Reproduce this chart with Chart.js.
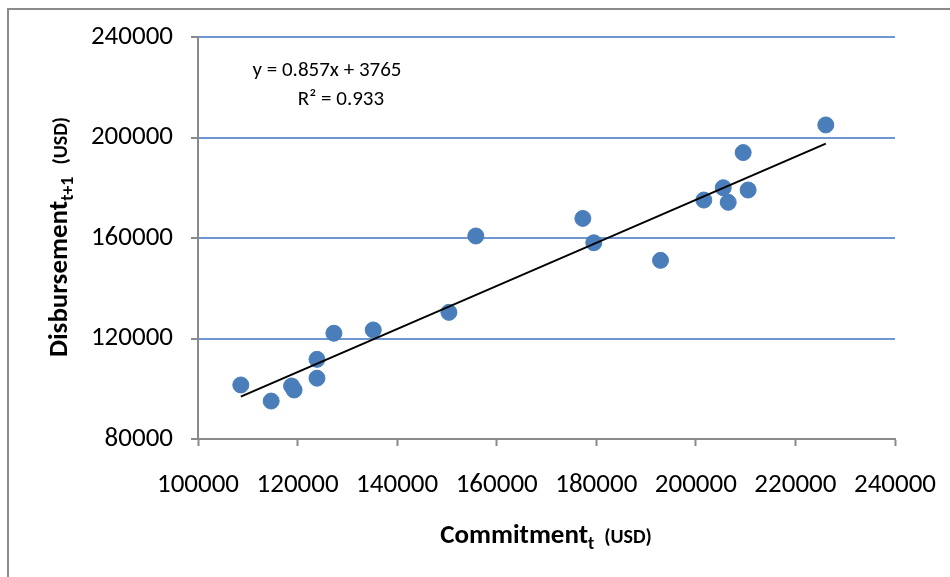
<!DOCTYPE html>
<html>
<head>
<meta charset="utf-8">
<script src="https://cdn.jsdelivr.net/npm/chart.js@4.4.1/dist/chart.umd.min.js"></script>
<style>
  html, body { margin: 0; padding: 0; background: #fff; }
  #wrap { width: 950px; height: 577px; }
</style>
</head>
<body>
<div id="wrap"><canvas id="c" width="950" height="577"></canvas></div>
<script>
// ---- data ----
const commitment = [108600, 114700, 118800, 119300, 123900, 123900, 127300, 135200, 150400, 155800, 177300, 179500, 192900, 201600, 205500, 206500, 209500, 210500, 226100];
const disbursement = [101500, 95100, 101100, 99500, 111700, 104200, 122100, 123400, 130400, 160800, 167800, 158100, 151100, 175100, 180000, 174200, 194000, 179100, 205000];
const xTickValues = [100000, 120000, 140000, 160000, 180000, 200000, 220000, 240000];
const yTickValues = [80000, 120000, 160000, 200000, 240000];
const trendSlope = 0.857;
const trendIntercept = 3765;
const equationLines = ["y = 0.857x + 3765", "R\u00B2 = 0.933"];

const FONT = "Carlito, 'Liberation Sans', Arial, sans-serif";

const points = commitment.map((x, i) => ({ x: x, y: disbursement[i] }));
const xMin = Math.min(...commitment), xMax = Math.max(...commitment);
const trend = [xMin, xMax].map(x => ({ x: x, y: trendSlope * x + trendIntercept }));

function drawRich(ctx, segs, x, y, rotate) {
  ctx.save();
  ctx.translate(x, y);
  if (rotate) ctx.rotate(-Math.PI / 2);
  let total = 0;
  segs.forEach(s => { ctx.font = s.font; s.w = ctx.measureText(s.text).width; total += s.w + (s.gap || 0); });
  let cx = -total / 2;
  ctx.fillStyle = '#000';
  ctx.textBaseline = 'alphabetic';
  ctx.textAlign = 'left';
  segs.forEach(s => { ctx.font = s.font; ctx.fillText(s.text, cx, s.dy || 0); cx += s.w + (s.gap || 0); });
  ctx.restore();
}

const decor = {
  id: 'decor',
  beforeDraw(chart) {
    const ctx = chart.ctx;
    ctx.save();
    ctx.fillStyle = '#fff';
    ctx.fillRect(0, 0, chart.width, chart.height);
    ctx.strokeStyle = '#8a8a8a';
    ctx.lineWidth = 2;
    ctx.beginPath();
    ctx.moveTo(8, 600); ctx.lineTo(8, 9); ctx.lineTo(960, 9);
    ctx.stroke();
    ctx.restore();
  },
  afterDraw(chart) {
    const ctx = chart.ctx;
    // equation text
    ctx.save();
    ctx.fillStyle = '#000';
    ctx.font = "21px " + FONT;
    ctx.textAlign = 'center';
    ctx.textBaseline = 'alphabetic';
    ctx.fillText(equationLines[0], 327, 76);
    ctx.fillText(equationLines[1], 341, 105);
    ctx.restore();
    // x title
    drawRich(ctx, [
      { text: 'Commitment', font: "bold 27px " + FONT },
      { text: 't', font: "bold 18px " + FONT, dy: 6, gap: 10 },
      { text: '(USD)', font: "bold 20px " + FONT }
    ], 546, 543, false);
    // y title
    drawRich(ctx, [
      { text: 'Disbursement', font: "bold 27px " + FONT },
      { text: 't+1', font: "bold 18px " + FONT, dy: 6, gap: 12 },
      { text: '(USD)', font: "bold 20px " + FONT }
    ], 67, 237, true);
  }
};

new Chart(document.getElementById('c'), {
  type: 'scatter',
  data: {
    datasets: [
      {
        label: 'Disbursement',
        data: points,
        backgroundColor: '#4a7ebb',
        borderColor: '#4a7ebb',
        pointRadius: 8,
        pointHoverRadius: 8,
        order: 2
      },
      {
        type: 'line',
        label: 'Trend',
        data: trend,
        borderColor: '#000',
        borderWidth: 2,
        pointRadius: 0,
        fill: false,
        order: 1
      }
    ]
  },
  options: {
    responsive: false,
    animation: false,
    devicePixelRatio: 1,
    layout: { padding: { left: 0, right: 55, top: 37, bottom: 0 } },
    plugins: { legend: { display: false }, tooltip: { enabled: false } },
    scales: {
      x: {
        type: 'linear',
        min: xTickValues[0],
        max: xTickValues[xTickValues.length - 1],
        afterBuildTicks: s => { s.ticks = xTickValues.map(v => ({ value: v })); },
        afterFit: s => { s.height = 138; s.paddingRight = 0; s.paddingLeft = 0; },
        border: { color: '#8a8a8a', width: 2 },
        grid: { drawOnChartArea: false, drawTicks: true, tickLength: 7, tickColor: '#8a8a8a', tickWidth: 2 },
        ticks: { color: '#000', font: { family: FONT, size: 27 }, padding: 23, maxRotation: 0, autoSkip: false, callback: v => String(v) }
      },
      y: {
        type: 'linear',
        min: yTickValues[0],
        max: yTickValues[yTickValues.length - 1],
        afterBuildTicks: s => { s.ticks = yTickValues.map(v => ({ value: v })); },
        afterFit: s => { s.width = 198; s.paddingTop = 0; s.paddingBottom = 0; },
        border: { color: '#8a8a8a', width: 2 },
        grid: {
          drawOnChartArea: true, drawTicks: true, tickLength: 7, tickColor: '#8a8a8a', tickWidth: 2,
          color: ctx => ctx.tick && ctx.tick.value === yTickValues[0] ? 'rgba(0,0,0,0)' : '#6f97cf',
          lineWidth: 2
        },
        ticks: { color: '#000', font: { family: FONT, size: 27 }, padding: 18, autoSkip: false, callback: v => String(v) }
      }
    }
  },
  plugins: [decor]
});
</script>
</body>
</html>
